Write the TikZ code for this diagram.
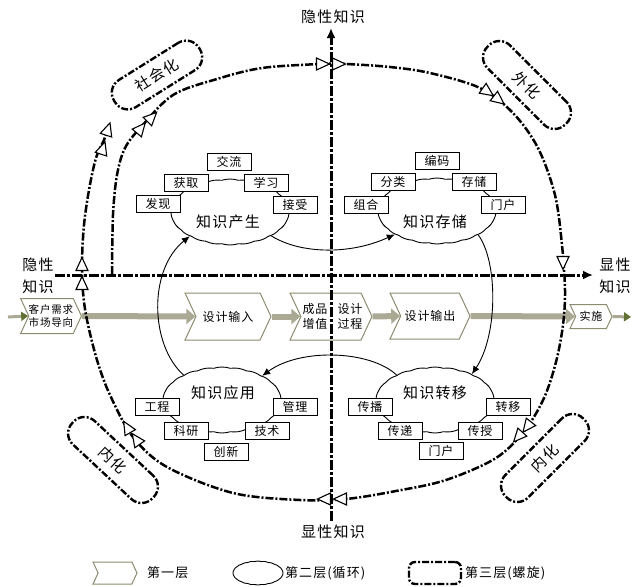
\documentclass[tikz,border=0pt]{standalone}
\usepackage{fontspec}
\setmainfont{Noto Sans CJK SC}[LetterSpace=8]
\usetikzlibrary{shapes.symbols,shapes.misc,arrows.meta}
\definecolor{chevb}{HTML}{8E8C70}
\definecolor{arrgray}{HTML}{AAA994}
\definecolor{headgreen}{HTML}{617033}
\begin{document}
\begin{tikzpicture}[x=1pt,y=-1pt,
  every node/.style={inner sep=0pt},
  lbl/.style={font=\fontsize{15}{22}\selectfont, align=center},
  box/.style={draw, line width=0.9pt, fill=white, font=\fontsize{12}{12}\selectfont, minimum width=44pt, minimum height=17pt},
  cld/.style={cloud, cloud puffs=22, cloud puff arc=35, draw, line width=0.9pt, minimum width=118pt, minimum height=66pt},
  cldtext/.style={font=\fontsize{15}{15}\selectfont},
  third/.style={draw, rectangle, rounded corners=15pt, line width=2.4pt, dash pattern=on 7pt off 2pt on 2pt off 2pt, minimum height=32pt, font=\fontsize{15}{15}\selectfont},
  chev/.style={signal, signal from=west, signal to=east, signal pointer angle=130, draw=chevb, line width=1pt, fill=white, font=\fontsize{12}{15}\selectfont, align=center},
  garrow/.style={draw=arrgray, line width=6pt, -{Triangle[length=9pt, width=15pt]}},
  endarrow/.style={draw=arrgray, line width=3pt, -{Triangle[length=7pt, width=9pt, color=headgreen]}},
  spiral/.style={line width=2.5pt, dash pattern=on 8pt off 2pt on 2pt off 2pt},
  axis/.style={line width=3pt, dash pattern=on 10pt off 2pt on 3pt off 2pt, -{Latex[length=10pt, width=9pt]}},
  conn/.style={line width=0.9pt, -{Latex[length=8pt, width=7pt]}},
  tri/.pic={\draw[line width=1.1pt, solid, fill=white] (6.5,0) -- (-6.5,6) -- (-6.5,-6) -- cycle;}
]
\useasboundingbox (0,0) rectangle (633,587);

% ---------- first layer (chevrons) ----------
\node[chev, minimum width=58pt, minimum height=35pt, font=\fontsize{10.5}{13}\selectfont] (cust) at (51,316) {客户需求\\市场导向};
\node[chev, minimum width=86pt, minimum height=47pt] (in) at (228,316.5) {设计输入};
\node[chev, minimum width=82pt, minimum height=47pt] (pro) at (331,316.5) {};
\node[font=\fontsize{12}{15}\selectfont, align=center] (prol) at (315,316.5) {成品\\增值};
\node[font=\fontsize{12}{15}\selectfont, align=center] (pror) at (350,316.5) {设计\\过程};
\node[chev, minimum width=80pt, minimum height=46pt] (out) at (430,316) {设计输出};
\node[chev, minimum width=42pt, minimum height=24pt, font=\fontsize{11}{11}\selectfont] (imp) at (591,316.5) {实施};
\coordinate (src) at (8,317);
\coordinate (dst) at (631,317);
\draw[endarrow] (src) -- (cust.west);
\draw[garrow] (cust.east) -- (in.west);
\draw[garrow] (in.east) -- (pro.west);
\draw[garrow] (pro.east) -- (out.west);
\draw[garrow] (out.east) -- (imp.west);
\draw[endarrow] (imp.east) -- (dst);

% ---------- second layer (clouds) ----------
\node[cld] (gen) at (230,212) {};
\node[cld] (sto) at (437,211) {};
\node[cld] (tra) at (435,400) {};
\node[cld] (app) at (222,400) {};
\node[cldtext] (gent) at (228,222) {知识产生};
\node[cldtext] (stot) at (435,222) {知识存储};
\node[cldtext] (trat) at (435,393) {知识转移};
\node[cldtext] (appt) at (223,393) {知识应用};

\draw[conn] (gen.-30) .. controls (300,254) and (350,255) .. (sto.-151);
\draw[conn] (sto.-30) .. controls (498,262) and (498,335) .. (tra.35);
\draw[conn] (tra.147) .. controls (370,350) and (300,348) .. (app.31);
\draw[conn] (app.147) .. controls (150,345) and (148,270) .. (gen.-149);

% boxes
\node[box] (g1) at (229,161.5) {交流};
\node[box] (g2) at (186,182.5) {获取};
\node[box] (g3) at (266,182.5) {学习};
\node[box] (g4) at (158,204) {发现};
\node[box] (g5) at (295,204.5) {接受};
\node[box] (s1) at (437,160.5) {编码};
\node[box] (s2) at (393,182) {分类};
\node[box] (s3) at (474,182) {存储};
\node[box] (s4) at (366,205) {组合};
\node[box] (s5) at (503,205) {门户};
\node[box] (t1) at (370,406.5) {传播};
\node[box] (t2) at (508,406.5) {转移};
\node[box] (t3) at (400,430.5) {传递};
\node[box] (t4) at (480,430.5) {传授};
\node[box] (t5) at (441,451) {门户};
\node[box] (a1) at (157,407) {工程};
\node[box] (a2) at (295,407) {管理};
\node[box] (a3) at (186,431) {科研};
\node[box] (a4) at (267,431) {技术};
\node[box] (a5) at (226,451.5) {创新};

% ---------- third layer (spiral) ----------
\draw[spiral] plot[smooth, tension=0.55] coordinates {
 (112,274) (113,215) (117,175) (125,148) (141,127) (173,95) (217,79) (262,68)
 (320,64) (346,64) (390,67) (430,73) (480,88) (513,113) (538,148) (555,195)
 (562,245) (565,290) (563,325) (556,362) (544,398) (525,430) (496,458) (446,480)
 (396,491) (346,499) (300,500) (233,493) (167,467) (133,437) (110,395) (97,360)
 (87,320) (83,292) (82,262) (84,225) (89,190) (96,158) (104,140) (108,128)};
\pic[rotate=50] at (141,128) {tri};
\pic[rotate=45] at (152,117) {tri};
\pic at (323,64) {tri};
\pic at (339,64) {tri};
\pic[rotate=-35] at (488,92) {tri};
\pic[rotate=-38] at (499,100) {tri};
\pic[rotate=-90] at (563,263) {tri};
\pic[rotate=-128] at (527,427) {tri};
\pic[rotate=-132] at (518,437) {tri};
\pic[rotate=180] at (324,499) {tri};
\pic[rotate=180] at (340,499) {tri};
\pic[rotate=125] at (136,439) {tri};
\pic[rotate=120] at (127,427) {tri};
\pic[rotate=90] at (82,283) {tri};
\pic[rotate=90] at (82,264) {tri};
\pic[rotate=72] at (103,148) {tri};
\pic[rotate=72] at (108,129) {tri};

\node[third, rotate=32, minimum width=100pt] (soc) at (157,75) {社会化};
\node[third, rotate=-45, minimum width=110pt] (ext) at (527,85) {外化};
\node[third, rotate=-43, minimum width=110pt] (inl) at (113,460) {内化};
\node[third, rotate=45, minimum width=110pt] (inr) at (545,458) {内化};

% ---------- axes ----------
\coordinate (hl) at (55,275);
\coordinate (hr) at (593,275);
\coordinate (vb) at (331,521);
\coordinate (vt) at (331,28);
\draw[axis] (hl) -- (hr);
\draw[axis] (vb) -- (vt);
\node[lbl] (ltop) at (333,17) {隐性知识};
\node[lbl] (lleft) at (38,276) {隐性\\知识};
\node[lbl] (lright) at (615,276) {显性\\知识};
\node[lbl] (lbot) at (333,532) {显性知识};

% ---------- legend ----------
\node[chev, minimum width=44pt, minimum height=22pt] (lg1) at (115,573) {};
\node[anchor=west, font=\fontsize{13}{13}\selectfont] (lt1) at (147,573) {第一层};
\node[cld, minimum width=50pt, minimum height=24pt] (lg2) at (258,573) {};
\node[anchor=west, font=\fontsize{13}{13}\selectfont] (lt2) at (285,573) {第二层(循环)};
\node[third, rounded corners=6pt, minimum width=52pt, minimum height=22pt] (lg3) at (435,573) {};
\node[anchor=west, font=\fontsize{13}{13}\selectfont] (lt3) at (465,573) {第三层(螺旋)};
\end{tikzpicture}
\end{document}
